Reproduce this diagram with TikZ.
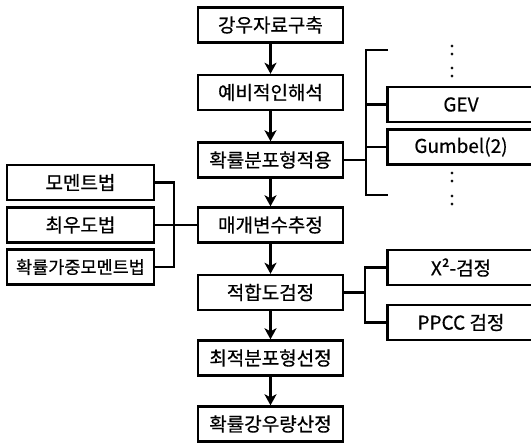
\documentclass[tikz,border=0pt]{standalone}
\usepackage{fontspec}
\usetikzlibrary{arrows.meta}
\setmainfont{Noto Sans CJK KR}[UprightFeatures={FakeBold=0.5}]
\begin{document}
\begin{tikzpicture}[x=1pt,y=-1pt,
    stepbox/.style={draw,line width=2.4pt,minimum width=145pt,minimum height=35pt,inner sep=0pt,font=\fontsize{19}{19}\selectfont},
    sidebox/.style={stepbox,minimum width=147pt},
    dots/.style={inner sep=0pt,font=\fontsize{20}{20}\selectfont},
    link/.style={line width=2.2pt},
    flow/.style={line width=2.6pt,-{Stealth[length=11pt,width=12pt,inset=3pt]}}]
    \useasboundingbox (0,0) rectangle (531,444);

    % main steps
    \node[stepbox] (data) at (270.5,25) {강우자료구축};
    \node[stepbox] (prelim) at (270.5,92.5) {예비적인해석};
    \node[stepbox] (fit) at (270.5,160) {확률분포형적용};
    \node[stepbox] (param) at (270.5,225) {매개변수추정};
    \node[stepbox] (test) at (270.5,292.5) {적합도검정};
    \node[stepbox] (best) at (270.5,358) {최적분포형선정};
    \node[stepbox] (rain) at (270.5,424) {확률강우량산정};

    \foreach \a/\b in {data/prelim,prelim/fit,fit/param,param/test,test/best,best/rain}
        \draw[flow] (\a) -- (\b);

    % distributions
    \node[sidebox] (gev) at (461,104.5) {GEV};
    \node[sidebox] (gumbel) at (461,147) {Gumbel(2)};
    \node[dots] (dota) at (452,50) {:};
    \node[dots] (dotb) at (452,72) {:};
    \node[dots] (dotc) at (452,177) {:};
    \node[dots] (dotd) at (452,200) {:};
    \coordinate (dtop) at (366,50);
    \coordinate (dtopend) at (388,50);
    \coordinate (dbot) at (366,195);
    \coordinate (dbotend) at (388,195);
    \draw[link] (dtopend) -- (dtop) -- (dbot) -- (dbotend);
    \draw[link] (fit.east) -- (fit.east -| dtop);
    \draw[link] (gev.west) -- (gev.west -| dtop);
    \draw[link] (gumbel.west) -- (gumbel.west -| dtop);

    % estimation methods
    \node[sidebox] (moment) at (80.5,182.5) {모멘트법};
    \node[sidebox] (mle) at (80.5,225) {최우도법};
    \node[sidebox,font=\fontsize{17.5}{17.5}\selectfont] (pwm) at (80.5,267) {확률가중모멘트법};
    \coordinate (lfork) at (174,225);
    \draw[link] (moment.east) -- (moment.east -| lfork) -- (pwm.east -| lfork) -- (pwm.east);
    \draw[link] (mle.east) -- (param.west);

    % goodness of fit tests
    \node[sidebox] (chi) at (461,267.5) {X²-검정};
    \node[sidebox] (ppcc) at (461,322.5) {PPCC 검정};
    \coordinate (tfork) at (365,292.5);
    \draw[link] (chi.west) -- (chi.west -| tfork) -- (ppcc.west -| tfork) -- (ppcc.west);
    \draw[link] (test.east) -- (tfork);

\end{tikzpicture}
\end{document}
